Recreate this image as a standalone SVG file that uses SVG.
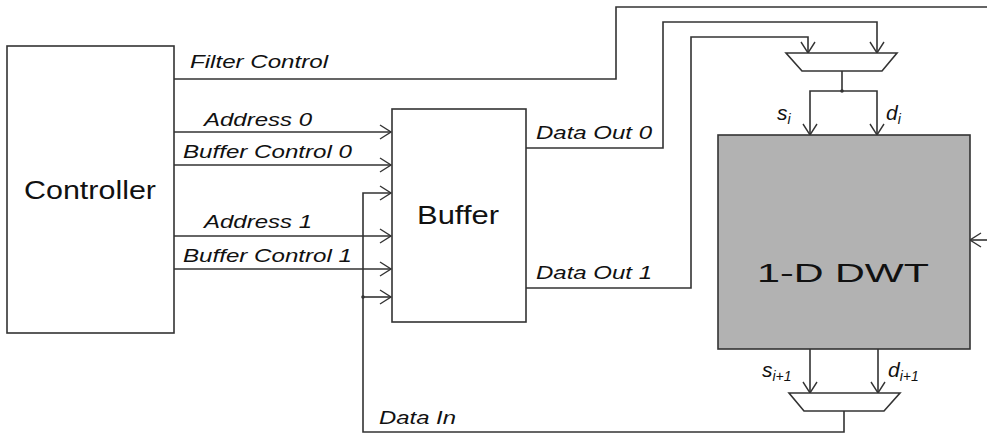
<svg xmlns="http://www.w3.org/2000/svg" width="987" height="434" viewBox="0 0 987 434">
<defs>
<marker id="arr" markerWidth="14" markerHeight="16" refX="12" refY="8" orient="auto" markerUnits="userSpaceOnUse">
<path d="M1,1 L12,8 L1,15" fill="none" stroke="#333" stroke-width="1.4"/>
</marker>
<style>
.box{fill:#fff;stroke:#333;stroke-width:1.6}
.w{fill:none;stroke:#333;stroke-width:1.6}
.a{fill:none;stroke:#333;stroke-width:1.6;marker-end:url(#arr)}
.lbl{font-family:"Liberation Sans",Arial,sans-serif;font-style:italic;font-size:18px;fill:#111}
.sd{font-family:"Liberation Sans",Arial,sans-serif;font-style:italic;font-size:21px;fill:#111}
.big{font-family:"Liberation Sans",Arial,sans-serif;font-size:25px;fill:#111}
.sub{font-size:14px}
</style>
</defs>
<rect width="987" height="434" fill="#fff"/>
<g id="connectors">
<polyline class="w" points="174,79 616,79 616,7 987,7"/>
<line class="a" x1="174" y1="132" x2="391" y2="132"/>
<line class="a" x1="174" y1="165" x2="391" y2="165"/>
<line class="a" x1="174" y1="236" x2="391" y2="236"/>
<line class="a" x1="174" y1="269" x2="391" y2="269"/>
<polyline class="a" points="844,411 844,432 363,432 363,193 391,193"/>
<line class="a" x1="363" y1="297" x2="391" y2="297"/>
<circle cx="363" cy="297" r="1.8" fill="#333"/>
<polyline class="a" points="526,148 663,148 663,22 877,22 877,53"/>
<polyline class="a" points="526,288 691,288 691,37 808,37 808,53"/>
<polyline class="w" points="842,71 842,91"/>
<circle cx="842" cy="91" r="1.8" fill="#333"/>
<polyline class="a" points="842,91 810,91 810,135"/>
<polyline class="a" points="842,91 877,91 877,135"/>
<line class="a" x1="810" y1="349" x2="810" y2="393"/>
<line class="a" x1="878" y1="349" x2="878" y2="393"/>
<line class="a" x1="987" y1="240" x2="970" y2="240"/>
<text class="lbl" x="190" y="68" textLength="138" lengthAdjust="spacingAndGlyphs">Filter Control</text>
<text class="lbl" x="204" y="126" textLength="108" lengthAdjust="spacingAndGlyphs">Address 0</text>
<text class="lbl" x="183" y="158" textLength="169" lengthAdjust="spacingAndGlyphs">Buffer Control 0</text>
<text class="lbl" x="204" y="228" textLength="108" lengthAdjust="spacingAndGlyphs">Address 1</text>
<text class="lbl" x="183" y="262" textLength="169" lengthAdjust="spacingAndGlyphs">Buffer Control 1</text>
<text class="lbl" x="536" y="139" textLength="116" lengthAdjust="spacingAndGlyphs">Data Out 0</text>
<text class="lbl" x="536" y="279" textLength="116" lengthAdjust="spacingAndGlyphs">Data Out 1</text>
<text class="lbl" x="379" y="424" textLength="77" lengthAdjust="spacingAndGlyphs">Data In</text>
<text class="sd" x="777" y="120">s<tspan class="sub" dy="4">i</tspan></text>
<text class="sd" x="886" y="120">d<tspan class="sub" dy="4">i</tspan></text>
<text class="sd" x="762" y="377">s<tspan class="sub" dy="4">i+1</tspan></text>
<text class="sd" x="888" y="377">d<tspan class="sub" dy="4">i+1</tspan></text>
</g>
<g id="controller">
<rect class="box" x="7" y="46" width="167" height="287"/>
<text class="big" x="24" y="199" textLength="132" lengthAdjust="spacingAndGlyphs">Controller</text>
</g>
<g id="buffer">
<rect class="box" x="392" y="109" width="134" height="213"/>
<text class="big" x="417" y="224" textLength="82" lengthAdjust="spacingAndGlyphs">Buffer</text>
</g>
<g id="mux-top">
<polygon class="box" points="786,53 897,53 882,71 802,71"/>
</g>
<g id="dwt">
<rect x="718" y="135" width="252" height="214" fill="#b2b2b2" stroke="#333" stroke-width="1.6"/>
<text class="big" x="757" y="282" textLength="172" lengthAdjust="spacingAndGlyphs" font-size="29">1-D DWT</text>
</g>
<g id="mux-bottom">
<polygon class="box" points="789,393 900,393 884,411 804,411"/>
</g>
</svg>
